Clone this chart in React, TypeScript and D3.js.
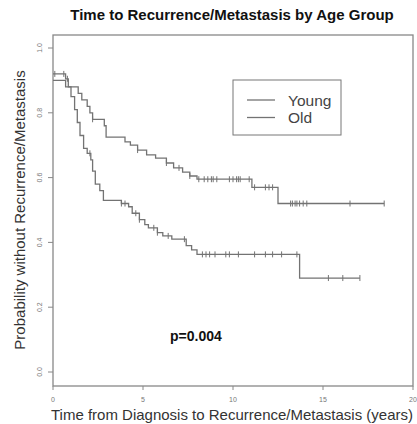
import React, { useEffect, useRef } from "react";
import * as d3 from "d3";

// Kaplan-Meier step data (time in years, survival after the step)
const youngTimes = [0, 0.7, 0.85, 1.4, 1.6, 1.9, 2.05, 2.2, 2.85, 2.95, 4.0, 4.3, 4.7, 5.2, 5.7, 6.3, 6.7, 7.2, 7.6, 8.0, 11.05, 12.5, 18.4];
const youngSurv = [0.92, 0.905, 0.88, 0.86, 0.84, 0.82, 0.8, 0.78, 0.76, 0.725, 0.71, 0.7, 0.685, 0.67, 0.66, 0.645, 0.63, 0.617, 0.605, 0.595, 0.57, 0.52, 0.52];
const youngCensor = [0.1, 0.6, 0.8, 2.2, 4.7, 6.3, 7.0, 7.6, 8.1, 8.4, 8.6, 8.8, 8.9, 9.1, 9.8, 10.0, 10.2, 10.3, 10.4, 10.9, 11.2, 11.8, 12.0, 12.2, 13.2, 13.3, 13.45, 13.55, 13.7, 13.9, 14.1, 16.5, 18.4];

const oldTimes = [0, 0.7, 1.0, 1.2, 1.35, 1.5, 1.7, 1.9, 2.1, 2.2, 2.35, 2.6, 2.8, 3.8, 4.2, 4.4, 4.8, 5.1, 5.3, 5.8, 6.1, 6.6, 7.4, 7.7, 8.0, 13.7, 17.05];
const oldSurv = [0.9, 0.88, 0.85, 0.81, 0.77, 0.73, 0.69, 0.675, 0.655, 0.62, 0.58, 0.56, 0.53, 0.52, 0.51, 0.49, 0.47, 0.455, 0.445, 0.43, 0.42, 0.41, 0.39, 0.377, 0.363, 0.29, 0.29];
const oldCensor = [2.05, 3.8, 4.0, 4.6, 4.8, 5.6, 5.8, 6.4, 7.3, 8.3, 8.5, 8.7, 9.0, 9.6, 9.8, 10.3, 11.2, 11.8, 12.2, 12.7, 13.55, 15.3, 16.1, 17.05];

const xTicks = [0, 5, 10, 15, 20];
const yTicks = [0, 0.2, 0.4, 0.6, 0.8, 1.0];
const legendLabels = ["Young", "Old"];

const LINE = "#737373";
const FONT = "Liberation Sans, Arial, sans-serif";

const App = () => {
  const ref = useRef<SVGSVGElement>(null);

  useEffect(() => {
    const svg = d3.select(ref.current);
    svg.selectAll("*").remove();

    const x = d3.scaleLinear().domain([0, 20]).range([53, 413]);
    const y = d3.scaleLinear().domain([0, 1]).range([372, 48]);

    // title
    svg
      .append("text")
      .attr("x", 232)
      .attr("y", 20)
      .attr("text-anchor", "middle")
      .attr("font-family", FONT)
      .attr("font-weight", "bold")
      .attr("font-size", 15)
      .attr("fill", "#111")
      .text("Time to Recurrence/Metastasis by Age Group");

    // plot box
    svg
      .append("rect")
      .attr("x", 53)
      .attr("y", 35)
      .attr("width", 360)
      .attr("height", 351)
      .attr("fill", "none")
      .attr("stroke", "#888")
      .attr("stroke-width", 1.3);

    // y axis ticks + labels
    const yAxis = svg.append("g");
    yTicks.forEach((t) => {
      yAxis
        .append("line")
        .attr("x1", 48)
        .attr("x2", 53)
        .attr("y1", y(t))
        .attr("y2", y(t))
        .attr("stroke", "#888");
      yAxis
        .append("text")
        .attr("transform", `translate(42,${y(t)}) rotate(-90)`)
        .attr("text-anchor", "middle")
        .attr("font-family", FONT)
        .attr("font-size", 7)
        .attr("fill", "#777")
        .text(d3.format(".1f")(t));
    });

    // x axis ticks + labels
    const xAxis = svg.append("g");
    xTicks.forEach((t) => {
      xAxis
        .append("line")
        .attr("x1", x(t))
        .attr("x2", x(t))
        .attr("y1", 386)
        .attr("y2", 390)
        .attr("stroke", "#888");
      xAxis
        .append("text")
        .attr("x", x(t))
        .attr("y", 402)
        .attr("text-anchor", "middle")
        .attr("font-family", FONT)
        .attr("font-size", 7)
        .attr("fill", "#777")
        .text(t);
    });

    // axis titles
    svg
      .append("text")
      .attr("x", 232)
      .attr("y", 420)
      .attr("text-anchor", "middle")
      .attr("font-family", FONT)
      .attr("font-size", 15)
      .attr("fill", "#333")
      .text("Time from Diagnosis to Recurrence/Metastasis (years)");

    svg
      .append("text")
      .attr("transform", `translate(25,${y(0.5)}) rotate(-90)`)
      .attr("text-anchor", "middle")
      .attr("font-family", FONT)
      .attr("font-size", 15)
      .attr("fill", "#333")
      .text("Probability without Recurrence/Metastasis");

    // curves
    const stepFn = (times: number[], surv: number[]) => (t: number) => {
      const i = d3.bisectRight(times, t) - 1;
      return surv[Math.max(0, i)];
    };

    const line = d3
      .line<[number, number]>()
      .x((d) => x(d[0]))
      .y((d) => y(d[1]))
      .curve(d3.curveStepAfter);

    const drawCurve = (times: number[], surv: number[], censor: number[]) => {
      const pts = times.map((t, i) => [t, surv[i]] as [number, number]);
      svg
        .append("path")
        .datum(pts)
        .attr("fill", "none")
        .attr("stroke", LINE)
        .attr("stroke-width", 1.3)
        .attr("d", line);
      const f = stepFn(times, surv);
      svg
        .append("g")
        .selectAll("line")
        .data(censor)
        .join("line")
        .attr("x1", (d) => x(d))
        .attr("x2", (d) => x(d))
        .attr("y1", (d) => y(f(d)) - 3)
        .attr("y2", (d) => y(f(d)) + 3)
        .attr("stroke", LINE)
        .attr("stroke-width", 1);
    };

    drawCurve(youngTimes, youngSurv, youngCensor);
    drawCurve(oldTimes, oldSurv, oldCensor);

    // legend
    const lg = svg.append("g");
    lg.append("rect")
      .attr("x", 233)
      .attr("y", 80)
      .attr("width", 108)
      .attr("height", 55)
      .attr("fill", "white")
      .attr("stroke", "#777")
      .attr("stroke-width", 1);
    legendLabels.forEach((lab, i) => {
      const ly = 100 + i * 17.5;
      lg.append("line")
        .attr("x1", 247)
        .attr("x2", 275)
        .attr("y1", ly)
        .attr("y2", ly)
        .attr("stroke", LINE)
        .attr("stroke-width", 1.3);
      lg.append("text")
        .attr("x", 288)
        .attr("y", ly + 5.5)
        .attr("font-family", FONT)
        .attr("font-size", 15.5)
        .attr("fill", "#444")
        .text(lab);
    });

    // p-value
    svg
      .append("text")
      .attr("x", 170)
      .attr("y", 341)
      .attr("font-family", FONT)
      .attr("font-weight", "bold")
      .attr("font-size", 14)
      .attr("fill", "#111")
      .text("p=0.004");
  }, []);

  return (
    <div style={{ position: "absolute", left: 0, top: 0 }}>
      <svg ref={ref} width={417} height={424} style={{ display: "block", background: "white" }} />
    </div>
  );
};

export default App;
